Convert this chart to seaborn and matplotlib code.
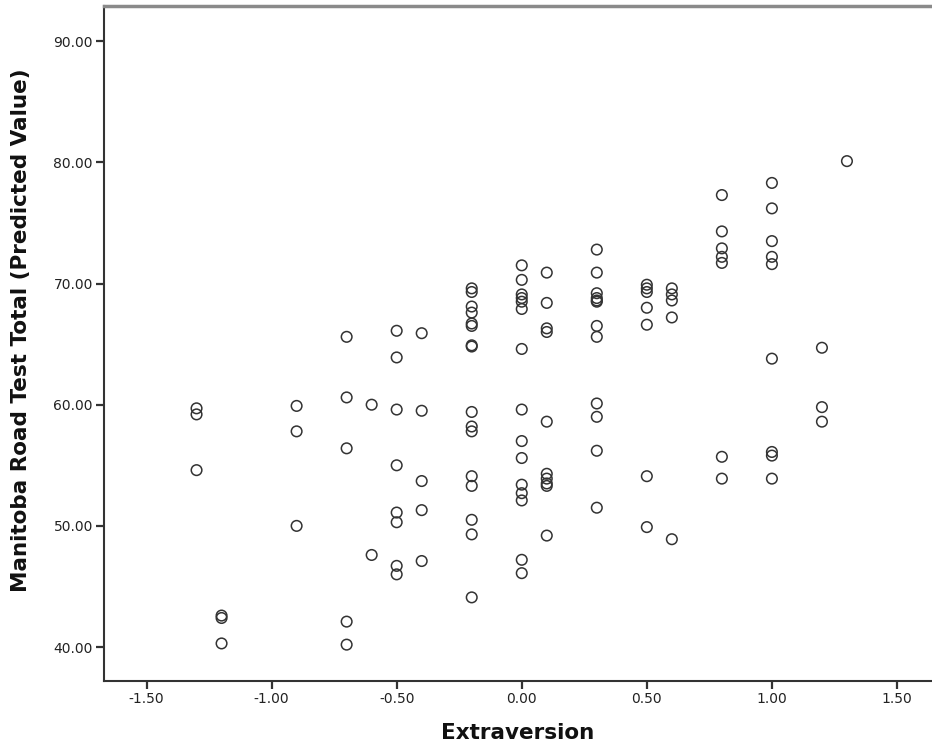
import numpy as np
import pandas as pd
import matplotlib
matplotlib.use("Agg")
import matplotlib.pyplot as plt
import seaborn as sns

# Data: extraversion level -> predicted values
x_m130 = [59.7, 59.2, 54.6]
x_m120 = [42.6, 42.4, 40.3]
x_m090 = [59.9, 57.8, 50.0]
x_m070 = [65.6, 60.6, 56.4, 42.1, 40.2]
x_m060 = [60.0, 47.6]
x_m050 = [66.1, 63.9, 59.6, 55.0, 51.1, 50.3, 46.7, 46.0]
x_m040 = [65.9, 59.5, 53.7, 51.3, 47.1]
x_m020 = [69.6, 69.3, 68.1, 67.6, 66.7, 66.5, 64.9, 64.8, 59.4, 58.2, 57.8,
          54.1, 53.3, 50.5, 49.3, 44.1]
x_000 = [71.5, 70.3, 69.1, 68.8, 68.5, 67.9, 64.6, 59.6, 57.0, 55.6, 53.4,
         52.7, 52.1, 47.2, 46.1]
x_010 = [70.9, 68.4, 66.3, 66.0, 58.6, 54.3, 53.9, 53.5, 53.3, 49.2]
x_030 = [72.8, 70.9, 69.2, 68.8, 68.6, 68.5, 66.5, 65.6, 60.1, 59.0, 56.2, 51.5]
x_050 = [69.9, 69.6, 69.3, 68.0, 66.6, 54.1, 49.9]
x_060 = [69.6, 69.1, 68.6, 67.2, 48.9]
x_080 = [77.3, 74.3, 72.9, 72.2, 71.7, 55.7, 53.9]
x_100 = [78.3, 76.2, 73.5, 72.2, 71.6, 63.8, 56.1, 55.8, 53.9]
x_120 = [64.7, 59.8, 58.6]
x_130 = [80.1]

extraversion_levels = [-1.3, -1.2, -0.9, -0.7, -0.6, -0.5, -0.4, -0.2, 0.0,
                       0.1, 0.3, 0.5, 0.6, 0.8, 1.0, 1.2, 1.3]
groups = [x_m130, x_m120, x_m090, x_m070, x_m060, x_m050, x_m040, x_m020,
          x_000, x_010, x_030, x_050, x_060, x_080, x_100, x_120, x_130]

xticks = [-1.5, -1.0, -0.5, 0.0, 0.5, 1.0, 1.5]
yticks = [40, 50, 60, 70, 80, 90]

rows = []
for lvl, vals in zip(extraversion_levels, groups):
    for v in vals:
        rows.append((lvl, v))
df = pd.DataFrame(rows, columns=["Extraversion", "Predicted"])

sns.set_theme(style="white")
plt.rcParams['font.family'] = ['DejaVu Sans']

fig = plt.figure(figsize=(9.32, 7.54), dpi=100)
ax = fig.add_axes([104 / 932, 1 - 681 / 754, 1 - 104 / 932, (681 - 6) / 754])

sns.scatterplot(data=df, x="Extraversion", y="Predicted", ax=ax,
                marker="o", s=58, facecolor="none", edgecolor="#333333",
                linewidth=1.1)

ax.set_xlim(-1.67, 1.64)
ax.set_ylim(37.2, 92.9)
ax.set_xticks(xticks)
ax.set_xticklabels([f"{t:.2f}" for t in xticks])
ax.set_yticks(yticks)
ax.set_yticklabels([f"{t:.2f}" for t in yticks])
ax.tick_params(axis="both", direction="out", length=6, width=1.6,
               color="#333333", labelsize=10, labelcolor="#222222", pad=2)
ax.tick_params(bottom=True, left=True)

for side in ["left", "bottom"]:
    ax.spines[side].set_color("#333333")
    ax.spines[side].set_linewidth(1.5)
ax.spines["top"].set_color("#8a8a8a")
ax.spines["top"].set_linewidth(2.5)
ax.spines["right"].set_visible(False)

ax.set_xlabel("Extraversion", fontsize=15.5, fontweight="bold", color="#111111",
              labelpad=12)
ax.set_ylabel("Manitoba Road Test Total (Predicted Value)", fontsize=15.5,
              fontweight="bold", color="#111111")
ax.yaxis.set_label_coords(-0.088, 0.52)

fig.savefig("out.png", dpi=100)
